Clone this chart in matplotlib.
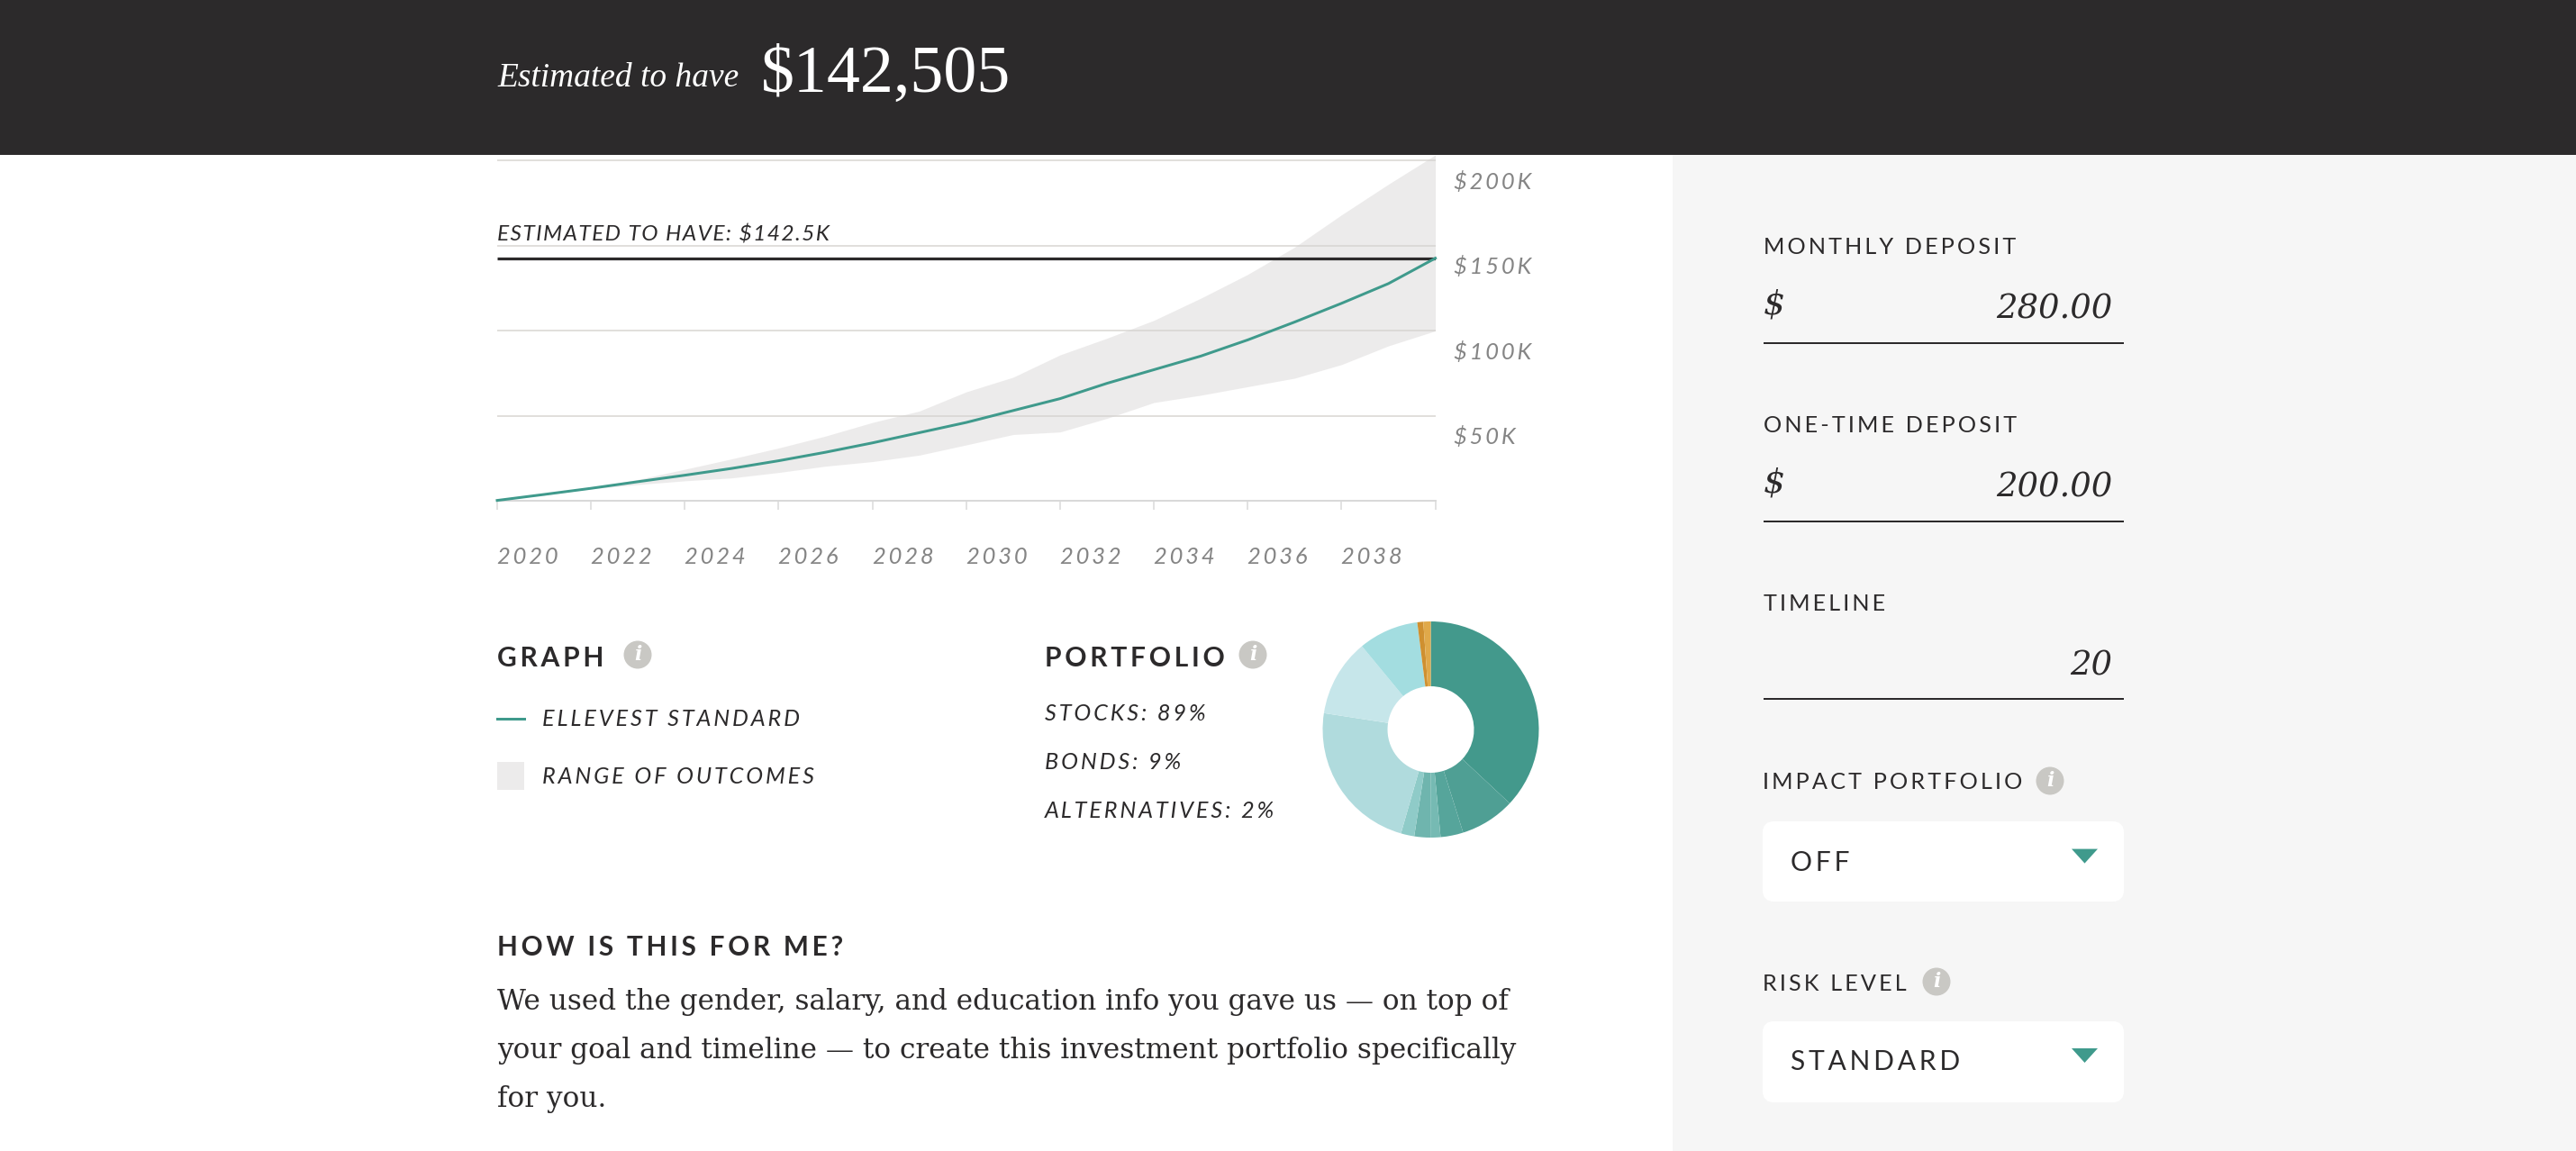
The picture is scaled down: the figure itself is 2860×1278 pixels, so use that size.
import matplotlib
matplotlib.use("Agg")
import matplotlib.pyplot as plt
from matplotlib.patches import Rectangle, FancyBboxPatch, Circle, Polygon

W, H = 2860, 1278
DPI = 100
PX = 72 / DPI  # one pixel in points

DARK = "#2c2a2b"
TEAL = "#3f9a8c"
GREY = "#858585"
GRID = "#e1dfdc"
SANS = ["Lato", "DejaVu Sans"]
SERIF = "DejaVu Serif"

# chart data, thousands of dollars
years = list(range(2020, 2041))
standard = [0.2, 3.7, 7.3, 11.2, 15, 19, 23.5, 28.5, 34, 40, 46, 53, 60, 69, 77, 85, 94.5, 105, 116, 127.6, 142.5]
upper = [0.2, 3.9, 7.8, 12.5, 18.5, 24.6, 31, 38, 46, 52.7, 64, 72.6, 85.7, 95.5, 106, 119, 133, 149, 168, 186, 203.2]
lower = [0.2, 3.3, 7, 9.5, 11.7, 13.4, 16.6, 20.3, 23, 26.8, 32.8, 38.9, 40.4, 48.4, 57.7, 62, 67, 72, 80, 91, 99.8]
estimate = 142.5
grid_values = [50, 100, 150, 200]
grid_labels = ["$50K", "$100K", "$150K", "$200K"]
tick_years = list(range(2020, 2039, 2))

# portfolio slices, percent
slice_values = [37, 8.2, 3.4, 1.5, 2.4, 2, 23, 11.6, 9, 0.9, 1.1]
slice_colors = ["#43998c", "#4f9f94", "#56a59b", "#76bab3", "#6fb5ae", "#8fcbc8",
                "#b0dbdd", "#c6e6ea", "#a3dde0", "#cf9030", "#e0a94a"]
portfolio_labels = ["STOCKS: 89%", "BONDS: 9%", "ALTERNATIVES: 2%"]


def track(s, gap="\u200a"):
    return gap.join(s)


def rect_axes(fig, left, top, right, bottom, **kw):
    return fig.add_axes([left / W, 1 - bottom / H, (right - left) / W, (bottom - top) / H], **kw)


def sans(ax, x, y, s, size, gap="\u200a", color=DARK, style="normal", weight="normal", ha="left"):
    ax.text(x, y + 2, track(s, gap), fontsize=size * PX, family=SANS, color=color,
            style=style, weight=weight, ha=ha, va="center")


def info(ax, x, y):
    ax.add_patch(Circle((x, y), 15.5, color="#c9c8c4", lw=0))
    ax.text(x, y, "i", fontsize=22 * PX, family=SERIF, style="italic", weight="bold",
            color="white", ha="center", va="center")


fig = plt.figure(figsize=(W / DPI, H / DPI), dpi=DPI, facecolor="white")

# page furniture goes underneath
bg = rect_axes(fig, 0, 0, W, H, zorder=0)
bg.set_xlim(0, W)
bg.set_ylim(H, 0)
bg.axis("off")
bg.add_patch(Rectangle((1857, 172), W - 1857, H - 172, color="#f6f6f6", lw=0))

# main chart
ax = rect_axes(fig, 552, 172, 1593.6, 556, zorder=1)
ax.set_xlim(2020, 2040)
ax.set_ylim(0, 203.2)
ax.patch.set_alpha(0)
for side in ["top", "left", "right"]:
    ax.spines[side].set_visible(False)
ax.spines["bottom"].set_color("#d9d9d9")
ax.spines["bottom"].set_linewidth(2 * PX)
ax.hlines(grid_values, 2020, 2040, color=GRID, lw=2 * PX, zorder=1)
ax.fill_between(years, lower, upper, color="#d4d1d1", alpha=0.42, lw=0, zorder=2)
ax.hlines(estimate, 2020, 2040, color=DARK, lw=3.2 * PX, zorder=3)
ax.plot(years, standard, color=TEAL, lw=3 * PX, zorder=4, clip_on=False)
ax.set_yticks([])
ax.set_xticks(tick_years + [2040])
ax.set_xticklabels([str(y) for y in tick_years] + [""])
ax.tick_params(axis="x", length=10 * PX, width=1.5 * PX, color="#d9d9d9", pad=0, labelbottom=False)
for y in tick_years:
    ax.annotate(track(str(y), "\u2009"), xy=(y, 0), xytext=(0, -62.5 * PX), textcoords="offset points",
                fontsize=25.5 * PX, family=SANS, style="italic", color=GREY, ha="left", va="center",
                annotation_clip=False)
for v, label in zip(grid_values, grid_labels):
    ax.annotate(track(label, "\u2009"), xy=(2040, v), xytext=(20.5 * PX, -23.5 * PX), textcoords="offset points",
                fontsize=25.5 * PX, family=SANS, style="italic", color=GREY, ha="left", va="center",
                annotation_clip=False)

# portfolio donut
pie_ax = rect_axes(fig, 1468.5, 690, 1708.5, 930, zorder=1)
pie_ax.pie(slice_values, colors=slice_colors, startangle=90, counterclock=False,
           radius=1, wedgeprops={"width": 0.6, "linewidth": 0})
pie_ax.set_xlim(-1, 1)
pie_ax.set_ylim(-1, 1)

# everything else in pixel coordinates
ui = rect_axes(fig, 0, 0, W, H, zorder=2)
ui.set_xlim(0, W)
ui.set_ylim(H, 0)
ui.axis("off")
ui.patch.set_alpha(0)

ui.add_patch(Rectangle((0, 0), W, 172, color=DARK, lw=0))
ui.text(552, 87, "Estimated to have", fontsize=37.4 * PX, family="Liberation Serif", style="italic",
        color="white", ha="left", va="center")
ui.text(845, 84, "$142,505", fontsize=74 * PX, family="Liberation Serif", color="white",
        ha="left", va="center")

sans(ui, 552, 258, "ESTIMATED TO HAVE: $142.5K", 24.5, style="italic")

# legend
sans(ui, 552, 729, "GRAPH", 30, gap="\u2009", weight="bold")
info(ui, 708, 727)
ui.plot([552, 582], [798, 798], color=TEAL, lw=3 * PX)
sans(ui, 602, 796.5, "ELLEVEST STANDARD", 25.3, gap="\u2009", style="italic")
ui.add_patch(Rectangle((552, 846), 30, 31, color="#ecebeb", lw=0))
sans(ui, 602, 860.5, "RANGE OF OUTCOMES", 25.3, gap="\u2009", style="italic")

sans(ui, 1160, 729, "PORTFOLIO", 30, gap="\u2009", weight="bold")
info(ui, 1391, 727)
for label, y in zip(portfolio_labels, [790, 844, 899]):
    sans(ui, 1160, y, label, 25.3, gap="\u2009", style="italic")

# blurb
sans(ui, 552, 1050, "HOW IS THIS FOR ME?", 29.7, gap="\u2009", weight="bold")
blurb = ["We used the gender, salary, and education info you gave us \u2014 on top of",
         "your goal and timeline \u2014 to create this investment portfolio specifically",
         "for you."]
for line, y in zip(blurb, [1112, 1166, 1220]):
    ui.text(552, y, line, fontsize=31.1 * PX, family=SERIF, color=DARK, ha="left", va="center")

# right panel inputs
fields = [("MONTHLY DEPOSIT", "$", "280.00", 273, 343, 381),
          ("ONE-TIME DEPOSIT", "$", "200.00", 471, 541, 578.6),
          ("TIMELINE", "", "20", 669, 739, 776)]
for label, unit, value, y_label, y_value, y_rule in fields:
    sans(ui, 1958, y_label, label, 25.3, gap="\u2009")
    if unit:
        ui.text(1958, y_value - 4, unit, fontsize=38 * PX, family=SERIF, style="italic", color=DARK,
                ha="left", va="center")
    ui.text(2345, y_value, value, fontsize=37 * PX, family=SERIF, style="italic", color=DARK,
            ha="right", va="center")
    ui.plot([1958, 2358], [y_rule, y_rule], color=DARK, lw=2 * PX, solid_capstyle="butt")

selects = [("IMPACT PORTFOLIO", 867, 2276, "OFF", 912, 1001, 955.6),
           ("RISK LEVEL", 1090, 2150, "STANDARD", 1134, 1224, 1177)]
for label, y_label, x_info, value, top, bottom, y_value in selects:
    sans(ui, 1957, y_label, label, 25.3, gap="\u2009")
    info(ui, x_info, y_label)
    ui.add_patch(FancyBboxPatch((1963, top + 6), 389, bottom - top - 12,
                                boxstyle="round,pad=0,rounding_size=6", mutation_aspect=1,
                                fc="white", ec="white", lw=12 * PX))
    sans(ui, 1988, y_value, value, 30, gap="\u2009")
    y_tri = y_value - 5
    ui.add_patch(Polygon([(2300, y_tri - 8), (2329, y_tri - 8), (2314.5, y_tri + 8)], color=TEAL, lw=0))

fig.savefig("out.png", dpi=DPI)
